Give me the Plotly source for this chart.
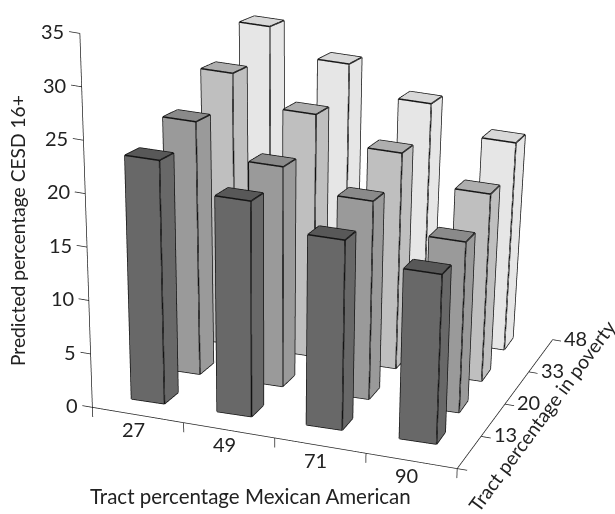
import plotly.graph_objects as go

mexican = ["27", "49", "71", "90"]
poverty = ["13", "20", "33", "48"]
z_ticks = [0, 5, 10, 15, 20, 25, 30, 35]
row_13 = [23.2, 20.6, 18.2, 16.3]
row_20 = [25.1, 21.9, 19.8, 17.1]
row_33 = [28.2, 25.2, 22.5, 19.6]
row_48 = [31.4, 28.6, 25.6, 22.7]
rows = [row_13, row_20, row_33, row_48]
side_colors = ["#686868", "#9a9a9a", "#bfbfbf", "#e6e6e6"]
top_colors = ["#585858", "#8a8a8a", "#aeaeae", "#d8d8d8"]

BW, BD = 0.39, 0.38
XC, YC = 0.455, 0.6
X0, X1, Y0, Y1, Z0, Z1 = -1.0, 5.0, -2.4, 4.5, -8.0, 35.4
UX, UY, UZ = 0.381, 0.333, 0.0447
EYE_R = 2.0
K, XV, ZS = 0.002, 1.96, 0.04


def warp(x, y, z):
    """Mild foreshortening of the bars, since the orthographic camera has none."""
    return (x + 0.047 * (1.64 - x) * y - 0.02 * (x - 0.3) * (3.3 - x) + K * (x + y / 3 - XV) * z, y, z * (1 - ZS * y))


def warp_axis(x, y, z):
    """The same foreshortening for the axis frame."""
    return (x + 0.04 * (2 - x) * y + K * (x + y / 3 - XV) * z, y, z * (1 - ZS * y) - 0.17 * x + 0.09 * y)


vx, vy, vz, fi, fj, fk, fc = [], [], [], [], [], [], []
ex, ey, ez = [], [], []
quads = [((0, 1, 2), (0, 2, 3)), ((4, 5, 6), (4, 6, 7)), ((0, 1, 5), (0, 5, 4)),
         ((1, 2, 6), (1, 6, 5)), ((2, 3, 7), (2, 7, 6)), ((3, 0, 4), (3, 4, 7))]
edges = [(0, 1), (1, 2), (2, 3), (3, 0), (4, 5), (5, 6), (6, 7), (7, 4), (0, 4), (1, 5), (2, 6), (3, 7)]
for r, vals in enumerate(rows):
    for c, h in enumerate(vals):
        xa, xb = c + XC - BW / 2, c + XC + BW / 2
        ya, yb = r + YC - BD / 2, r + YC + BD / 2
        corners = [warp(*p) for p in [(xa, ya, 0), (xb, ya, 0), (xb, yb, 0), (xa, yb, 0),
                                      (xa, ya, h), (xb, ya, h), (xb, yb, h), (xa, yb, h)]]
        base = len(vx)
        for p in corners:
            vx.append(p[0]); vy.append(p[1]); vz.append(p[2])
        for qi, q in enumerate(quads):
            for t in q:
                fi.append(base + t[0]); fj.append(base + t[1]); fk.append(base + t[2])
                fc.append(top_colors[r] if qi == 1 else side_colors[r])
        for a, b in edges:
            ex += [corners[a][0], corners[b][0], None]
            ey += [corners[a][1], corners[b][1], None]
            ez += [corners[a][2], corners[b][2], None]

fig = go.Figure()
fig.add_trace(go.Mesh3d(x=vx, y=vy, z=vz, i=fi, j=fj, k=fk, facecolor=fc, flatshading=True,
                        lighting=dict(ambient=1, diffuse=0, specular=0, fresnel=0, roughness=1),
                        hoverinfo="skip", showscale=False))
fig.add_trace(go.Scatter3d(x=ex, y=ey, z=ez, mode="lines", line=dict(color="#111111", width=3),
                           hoverinfo="skip", showlegend=False))

n = len(mexican)
ax, ay, az = [], [], []


def seg(p, q):
    a, b = warp_axis(*p), warp_axis(*q)
    ax.extend([a[0], b[0], None]); ay.extend([a[1], b[1], None]); az.extend([a[2], b[2], None])


seg((0, 0, 0), (n, 0, 0))
seg((n, 0, 0), (n, n, 0))
seg((0, 0, 0), (0, 0, 35))
for i in range(n + 1):
    seg((i, 0, 0), (i, 0, -0.9))
    seg((n, i, 0), (n + 0.11, i, 0))
for t in z_ticks:
    seg((0, 0, t), (-0.11, 0, t))
fig.add_trace(go.Scatter3d(x=ax, y=ay, z=az, mode="lines", line=dict(color="#222222", width=1.5),
                           hoverinfo="skip", showlegend=False))

font = dict(family="Lato, sans-serif", size=20, color="#222222")
ann = []
for t in z_ticks:
    p = warp_axis(-0.14, 0, t)
    ann.append(dict(x=p[0], y=p[1], z=p[2], text=str(t), showarrow=False, xanchor="right", yanchor="middle", font=font))
for c, m in enumerate(mexican):
    p = warp_axis(c + 0.45, 0, -1.4)
    ann.append(dict(x=p[0], y=p[1], z=p[2], text=m, showarrow=False, xanchor="center", yanchor="middle", font=font))
for r, lab in enumerate(poverty):
    p = warp_axis(n + 0.12, r + 1, 0.4)
    ann.append(dict(x=p[0], y=p[1], z=p[2], text=lab, showarrow=False, xanchor="left", yanchor="middle", font=font))

title = dict(xref="paper", yref="paper", showarrow=False, xanchor="center", yanchor="middle")
fig.update_layout(
    width=615, height=514, margin=dict(l=0, r=0, t=0, b=0), paper_bgcolor="white",
    showlegend=False,
    scene=dict(
        domain=dict(x=[0, 1], y=[0, 1]),
        xaxis=dict(visible=False, range=[X0, X1]),
        yaxis=dict(visible=False, range=[Y0, Y1]),
        zaxis=dict(visible=False, range=[Z0, Z1]),
        aspectmode="manual",
        aspectratio=dict(x=(X1 - X0) * UX, y=(Y1 - Y0) * UY, z=(Z1 - Z0) * UZ),
        camera=dict(eye=dict(x=0.337 * EYE_R, y=-0.862 * EYE_R, z=0.379 * EYE_R), center=dict(x=0, y=0, z=0),
                    up=dict(x=0, y=0, z=1), projection=dict(type="orthographic")),
        annotations=ann,
    ),
    annotations=[
        dict(title, x=250 / 615, y=1 - 496 / 514, text="Tract percentage Mexican American", font=dict(font, size=20.5)),
        dict(title, x=18 / 615, y=1 - 231 / 514, text="Predicted percentage CESD 16+", textangle=-90, font=dict(font, size=19.2)),
        dict(title, x=541 / 615, y=1 - 416 / 514, text="Tract percentage in poverty", textangle=-53.5, font=dict(font, size=19.3)),
    ],
)
fig.write_html("out.html", config=dict(displayModeBar=False),
               post_script="document.body.style.margin='0';document.documentElement.style.overflow='hidden';")
